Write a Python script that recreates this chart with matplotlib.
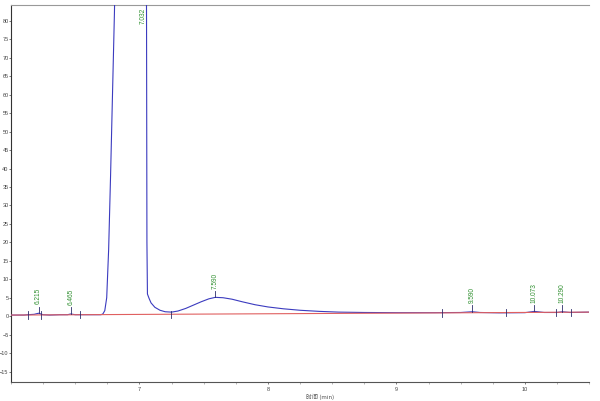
"""
Chromatogram: trace, baseline, peak labels and integration marks.
"""
import numpy as np
import matplotlib
matplotlib.use("Agg")
import matplotlib.pyplot as plt
from matplotlib.ticker import MultipleLocator

# detector trace (min, mAU); main peak is off scale
trace_t = [6.00, 6.10, 6.13, 6.18, 6.215, 6.25, 6.30, 6.38, 6.44, 6.465, 6.50,
           6.60, 6.70, 6.715, 6.73, 6.745, 6.76, 6.775, 6.79, 6.805, 6.82,
           6.90, 7.00, 7.045, 7.055, 7.058, 7.062, 7.075, 7.09, 7.12, 7.16,
           7.20, 7.25, 7.30, 7.36, 7.42, 7.48, 7.54, 7.59, 7.65, 7.72, 7.80,
           7.90, 8.00, 8.12, 8.25, 8.40, 8.55, 8.75, 9.00, 9.30, 9.50, 9.59,
           9.65, 9.80, 10.00, 10.073, 10.15, 10.25, 10.29, 10.35, 10.50]
trace_y = [0.3, 0.3, 0.4, 0.5, 0.8, 0.4, 0.3, 0.4, 0.4, 0.6, 0.4,
           0.4, 0.4, 0.6, 1.5, 5.0, 18.0, 38.0, 60.0, 82.0, 110.0,
           200.0, 240.0, 200.0, 80.0, 20.0, 6.0, 4.8, 3.6, 2.4, 1.6,
           1.2, 1.1, 1.4, 2.1, 3.0, 3.9, 4.7, 5.1, 5.0, 4.6, 3.9,
           3.1, 2.5, 2.0, 1.6, 1.3, 1.1, 1.0, 0.95, 0.95, 1.0, 1.2,
           1.0, 0.9, 0.95, 1.3, 1.0, 1.0, 1.2, 1.0, 1.1]

# drawn baseline
base_t = [6.00, 10.50]
base_y = [0.3, 1.1]

# labelled peaks
peak_t = [6.215, 6.465, 7.590, 9.590, 10.073, 10.290]
peak_lbl = ["6.215", "6.465", "7.590", "9.590", "10.073", "10.290"]
main_t, main_lbl = 7.032, "7.032"

# integration start/end marks
event_t = [6.13, 6.233, 6.535, 7.248, 9.357, 9.853, 10.24, 10.357]

trace_col = "#3b3bbf"
mark_col = "#2c2c6a"
lbl_col = "#2f8f2f"

fig = plt.figure(figsize=(6.0, 4.01), dpi=100)
ax = fig.add_axes([0.0183, 0.0486, 0.9637, 0.9389])

ax.plot(trace_t, trace_y, color=trace_col, lw=0.8, zorder=3)
ax.plot(base_t, base_y, color="#e06060", lw=0.8, zorder=4)

def baseline_at(t):
    return np.interp(t, base_t, base_y)

for t in event_t:
    b = baseline_at(t)
    ax.plot([t, t], [b - 1.0, b + 1.0], color=mark_col, lw=0.6, zorder=5)

for t, lbl in zip(peak_t, peak_lbl):
    y = np.interp(t, trace_t, trace_y)
    ax.plot([t, t], [y, y + 1.8], color=mark_col, lw=0.6, zorder=5)
    ax.annotate(lbl, xy=(t, y + 1.8), xytext=(0, 1.5), textcoords="offset points",
                rotation=90, ha="center", va="bottom", fontsize=4.7,
                color=lbl_col, family="Liberation Sans")

ax.annotate(main_lbl, xy=(main_t, 84.3), xytext=(-0.5, -2), textcoords="offset points",
            rotation=90, ha="center", va="top", fontsize=4.7,
            color=lbl_col, family="Liberation Sans")

ax.set_xlim(6.0, 10.5)
ax.set_ylim(-17.7, 84.3)
ax.xaxis.set_major_locator(MultipleLocator(1))
ax.xaxis.set_minor_locator(MultipleLocator(0.25))
ax.yaxis.set_major_locator(MultipleLocator(5))
ax.set_xticks([7, 8, 9, 10])

ax.tick_params(axis="both", which="major", direction="out", length=1.3,
               width=0.5, labelsize=4.0, colors="#444444", pad=0.4)
ax.tick_params(axis="x", which="major", pad=2.5)
ax.tick_params(axis="x", which="minor", direction="out", length=1.6,
               width=0.5, colors="#999999")
for lab in ax.get_xticklabels() + ax.get_yticklabels():
    lab.set_family("Liberation Sans")

ax.spines["right"].set_visible(False)
ax.spines["top"].set_color("#999999")
ax.spines["left"].set_color("#333333")
ax.spines["bottom"].set_color("#555555")
for s in ax.spines.values():
    s.set_linewidth(0.8)

ax.set_xlabel("时间 (min)", fontsize=4.3, color="#555555",
              family=["Noto Sans CJK SC", "DejaVu Sans"])
ax.xaxis.set_label_coords(0.535, -0.032)

plt.savefig("out.png", dpi=100)
